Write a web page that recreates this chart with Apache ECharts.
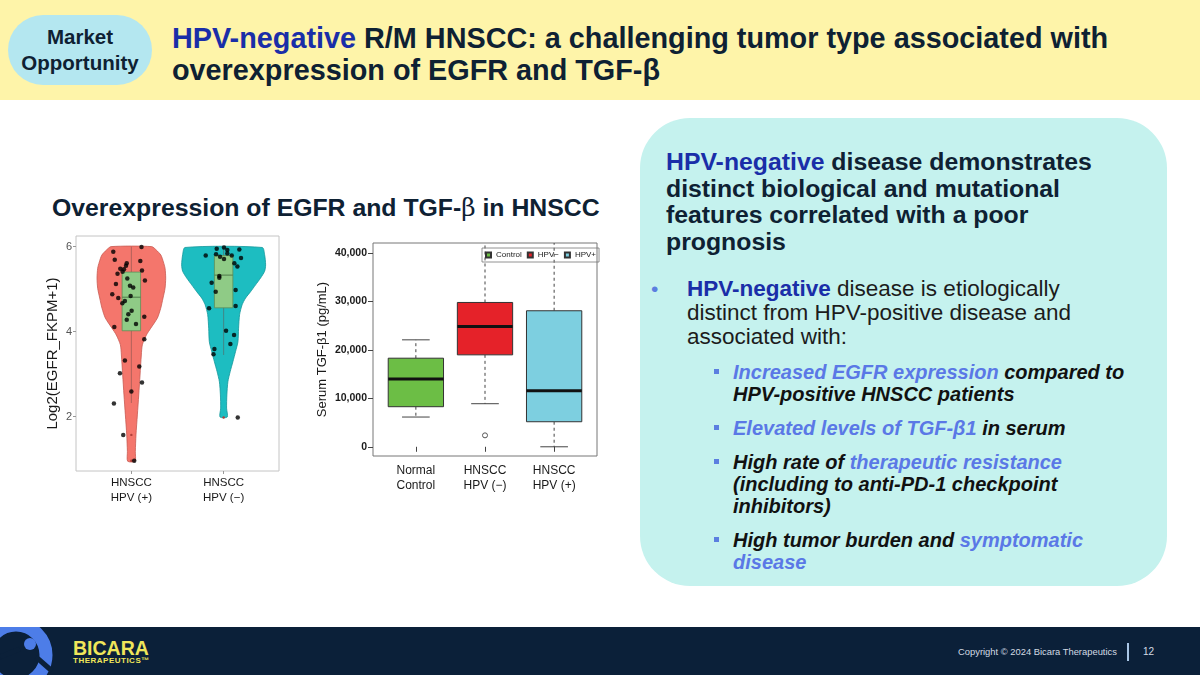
<!DOCTYPE html>
<html>
<head>
<meta charset="utf-8">
<script src="https://cdn.jsdelivr.net/npm/echarts@6/dist/echarts.min.js"></script>
<style>
  html, body { margin: 0; padding: 0; }
  body { width: 1200px; height: 675px; position: relative; overflow: hidden; background: #fff;
         font-family: 'Liberation Sans', Arial, sans-serif; color: #0e2133; }
  .abs { position: absolute; white-space: nowrap; }
  .band { left: 0; top: 0; width: 1200px; height: 100px; background: #fef4a9; }
  .pill { left: 8px; top: 15px; width: 144px; height: 70px; border-radius: 35px; background: #b4e7f0;
          display: flex; align-items: center; justify-content: center; text-align: center;
          font-weight: bold; font-size: 20.5px; line-height: 26px; }
  .headline { left: 172px; top: 22px; font-weight: bold; font-size: 28.8px; line-height: 32px; }
  .blue { color: #1a2ea8; }
  .sub { left: 52px; top: 194px; font-weight: bold; font-size: 24.8px; line-height: 28px; }
  .beta { font-family: 'DejaVu Serif', serif; font-weight: normal; }
  .panel { left: 640px; top: 118px; width: 527px; height: 468px; border-radius: 50px; background: #c5f2ee; }
  .lead { left: 666px; top: 149px; font-weight: bold; font-size: 24.8px; line-height: 26.7px; }
  .bul { left: 687px; top: 277px; font-size: 22.5px; line-height: 24px; color: #1c1c1c; }
  .dot { left: 651px; top: 277px; font-size: 21px; line-height: 24px; color: #5b7fe0; }
  .sq { width: 5px; height: 5px; background: #5b7fe0; }
  .it { left: 733px; font-size: 20px; line-height: 22px; font-weight: bold; font-style: italic; color: #111; }
  .lt { color: #5a78e6; }
  .foot { left: 0; top: 627px; width: 1200px; height: 48px; background: #0b2039; }
  .brand { left: 73px; top: 638px; font-weight: 900; font-size: 19.5px; line-height: 20px; color: #f0e65a; }
  .brand2 { left: 73px; top: 656px; font-weight: bold; font-size: 8px; line-height: 10px; color: #f0e65a; letter-spacing: 0.5px; }
  .copy { left: 958px; top: 645px; font-size: 9.4px; line-height: 14px; color: #d3dbe4; }
  .bar { left: 1127px; top: 643px; width: 2px; height: 18px; background: #a9c6e6; }
  .pg { left: 1143px; top: 645px; font-size: 10px; line-height: 14px; color: #d3dbe4; }
  #chart { position: absolute; left: 0; top: 100px; width: 640px; height: 527px; }
</style>
</head>
<body>
<div class="abs band"></div>
<div class="abs pill">Market<br>Opportunity</div>
<div class="abs headline"><span class="blue">HPV-negative</span> R/M HNSCC: a challenging tumor type associated with<br>overexpression of EGFR and TGF-β</div>
<div class="abs sub">Overexpression of EGFR and TGF-<span class="beta">β</span> in HNSCC</div>

<div class="abs panel"></div>
<div class="abs lead"><span class="blue">HPV-negative</span> disease demonstrates<br>distinct biological and mutational<br>features correlated with a poor<br>prognosis</div>
<div class="abs dot">•</div>
<div class="abs bul"><b class="blue">HPV-negative</b> disease is etiologically<br>distinct from HPV-positive disease and<br>associated with:</div>
<div class="abs sq" style="left:714px;top:369px"></div>
<div class="abs it" style="top:361px"><span class="lt">Increased EGFR expression</span> compared to<br>HPV-positive HNSCC patients</div>
<div class="abs sq" style="left:714px;top:425px"></div>
<div class="abs it" style="top:417px"><span class="lt">Elevated levels of TGF-β1</span> in serum</div>
<div class="abs sq" style="left:714px;top:459px"></div>
<div class="abs it" style="top:451px">High rate of <span class="lt">therapeutic resistance</span><br>(including to anti-PD-1 checkpoint<br>inhibitors)</div>
<div class="abs sq" style="left:714px;top:537px"></div>
<div class="abs it" style="top:529px">High tumor burden and <span class="lt">symptomatic</span><br><span class="lt">disease</span></div>

<div class="abs foot"></div>
<svg class="abs" style="left:0;top:627px" width="70" height="48">
  <circle cx="16" cy="28" r="30" fill="none" stroke="#4d7de8" stroke-width="13"/>
  <circle cx="30" cy="17" r="6" fill="#4d7de8"/>
  <path d="M0 30 L20 22 M36 30 L52 44" stroke="#0b2039" stroke-width="5"/>
</svg>
<div class="abs brand">BICARA</div>
<div class="abs brand2">THERAPEUTICS™</div>
<div class="abs copy">Copyright © 2024 Bicara Therapeutics</div>
<div class="abs bar"></div>
<div class="abs pg">12</div>

<div id="chart"></div>

<script>
// EGFR violin plot
const egfrGroups = ['HNSCC\nHPV (+)', 'HNSCC\nHPV (−)']
const egfrTicks = [2, 4, 6]
const violinPosY = [0.95, 1.18, 1.57, 2.04, 2.51, 2.98, 3.45, 3.69, 3.92, 4.08, 4.32, 4.55, 4.79, 5.02, 5.26, 5.49, 5.64, 5.8, 5.92, 6.0]
const violinPosW = [0.04, 0.043, 0.05, 0.065, 0.08, 0.094, 0.108, 0.119, 0.163, 0.21, 0.282, 0.318, 0.343, 0.365, 0.372, 0.365, 0.347, 0.32, 0.27, 0.22]
const violinNegY = [1.99, 2.2, 2.51, 2.82, 3.06, 3.29, 3.53, 3.76, 4.08, 4.4, 4.63, 4.79, 4.94, 5.1, 5.26, 5.42, 5.57, 5.81, 5.98]
const violinNegW = [0.039, 0.032, 0.035, 0.046, 0.071, 0.1, 0.129, 0.155, 0.162, 0.173, 0.2, 0.238, 0.292, 0.346, 0.4, 0.444, 0.455, 0.444, 0.418]
// low whisker, q1, median, q3, high whisker
const egfrBoxPos = [2.32, 4.02, 4.81, 5.40, 6.00]
const egfrBoxNeg = [3.45, 4.56, 5.33, 5.79, 5.98]
const egfrOutPos = [1.57, 0.96]
const egfrOutNeg = [1.98]
// jittered points: [offset from group, value]
const dotsPos = [
  [-0.196, 5.88], [0.11, 5.99], [-0.18, 5.69], [0.097, 5.66], [-0.05, 5.61], [-0.058, 5.55],
  [-0.12, 5.48], [-0.08, 5.47], [0.115, 5.44], [-0.15, 5.36], [-0.095, 5.41], [0.147, 5.2],
  [-0.167, 5.12], [-0.044, 5.25], [-0.015, 5.08], [0.02, 5.04], [-0.207, 4.88], [-0.008, 4.84],
  [-0.142, 4.79], [-0.07, 4.72], [-0.098, 4.67], [0.003, 4.49], [-0.033, 4.41], [0.14, 4.35],
  [-0.05, 4.28], [0.05, 4.18], [-0.185, 4.11], [0.14, 3.82], [-0.07, 3.32], [0.086, 3.18],
  [-0.124, 3.02], [0.115, 2.8], [0, 2.59], [-0.189, 2.31], [-0.088, 1.57], [0.031, 0.96]
]
const dotsNeg = [
  [-0.075, 5.95], [0.004, 5.98], [0.04, 5.92], [0.04, 5.84], [0.17, 5.93], [-0.194, 5.79],
  [-0.082, 5.82], [-0.039, 5.76], [0.004, 5.71], [0.088, 5.79], [0.188, 5.73], [0.116, 5.61],
  [0.149, 5.53], [-0.047, 5.31], [-0.047, 5.27], [-0.13, 5.15], [0.13, 4.98], [-0.086, 4.94],
  [0.13, 4.6], [-0.158, 4.55], [0.026, 4.02], [0.113, 3.92], [0.073, 3.71], [-0.1, 3.59],
  [-0.11, 3.47], [0.153, 1.98]
]

// TGF-beta1 box plot
const tgfGroups = ['Normal\nControl', 'HNSCC\nHPV (−)', 'HNSCC\nHPV (+)']
const tgfLegend = ['Control', 'HPV−', 'HPV+']
const tgfTicks = [0, 10000, 20000, 30000, 40000]
const tgfControl = [6140, 8270, 14000, 18280, 22070]
const tgfNeg = [8890, 18970, 24820, 29780, 44000]
const tgfPos = [0, 5170, 11580, 28070, 43500]
const tgfOutNeg = [2360]

const chart = echarts.init(document.getElementById('chart'))

function violin(pos, ys, ws, fill, stroke) {
  return {
    type: 'custom', xAxisIndex: 0, yAxisIndex: 0, silent: true, z: 2,
    data: [[pos]],
    renderItem: function (params, api) {
      const x = api.value(0)
      const left = [], right = []
      ys.forEach(function (v, i) {
        left.push(api.coord([x - ws[i], v]))
        right.unshift(api.coord([x + ws[i], v]))
      })
      return {
        type: 'polygon',
        shape: { points: left.concat(right), smooth: 0.25 },
        style: { fill: fill, stroke: stroke, lineWidth: 0.8 }
      }
    }
  }
}

function innerBox(pos, b, outl) {
  return {
    type: 'custom', xAxisIndex: 0, yAxisIndex: 0, silent: true, z: 3,
    data: [[pos].concat(b)],
    renderItem: function (params, api) {
      const x = api.value(0)
      const tl = api.coord([x - 0.1, api.value(4)])
      const br = api.coord([x + 0.1, api.value(2)])
      const md = api.coord([x, api.value(3)])
      const lo = api.coord([x, api.value(1)])
      const hi = api.coord([x, api.value(5)])
      const kids = [
        { type: 'line', shape: { x1: lo[0], y1: lo[1], x2: hi[0], y2: hi[1] }, style: { stroke: '#6a4a46', lineWidth: 0.8, opacity: 0.6 } },
        { type: 'rect', shape: { x: tl[0], y: tl[1], width: br[0] - tl[0], height: br[1] - tl[1] }, style: { fill: '#8fcb86', stroke: '#5f8f58', lineWidth: 0.8 } },
        { type: 'line', shape: { x1: tl[0], y1: md[1], x2: br[0], y2: md[1] }, style: { stroke: '#4f7a4a', lineWidth: 1 } }
      ]
      outl.forEach(function (v) {
        const p = api.coord([x, v])
        kids.push({ type: 'circle', shape: { cx: p[0], cy: p[1], r: 1.2 }, style: { fill: '#b0403a' } })
      })
      return { type: 'group', children: kids }
    }
  }
}

function jitter(pos, pts) {
  return {
    type: 'scatter', xAxisIndex: 0, yAxisIndex: 0, silent: true, z: 4,
    symbolSize: 4.5, itemStyle: { color: '#000' },
    data: pts.map(function (d) { return [pos + d[0], d[1]] })
  }
}

function tgfBox(name, pos, s, outl, fill) {
  return {
    name: name, type: 'custom', xAxisIndex: 1, yAxisIndex: 1, silent: true,
    itemStyle: { color: fill, borderColor: '#333', borderWidth: 0.6 },
    data: [[pos].concat(s)],
    renderItem: function (params, api) {
      const cs = params.coordSys
      const clip = function (y) { return Math.max(cs.y, Math.min(cs.y + cs.height, y)) }
      const x = api.value(0)
      const hw = api.size([0.8, 0])[0] / 2
      const cx = api.coord([x, 0])[0]
      const yv = function (k) { return api.coord([x, api.value(k)])[1] }
      const lo = yv(1), q1 = yv(2), md = yv(3), q3 = yv(4), hi = yv(5)
      const dash = { stroke: '#444', lineWidth: 1, lineDash: [3, 3] }
      const solid = { stroke: '#444', lineWidth: 1 }
      const kids = [
        { type: 'line', shape: { x1: cx, y1: q3, x2: cx, y2: clip(hi) }, style: dash },
        { type: 'line', shape: { x1: cx, y1: q1, x2: cx, y2: clip(lo) }, style: dash }
      ]
      if (hi >= cs.y) kids.push({ type: 'line', shape: { x1: cx - hw / 2, y1: hi, x2: cx + hw / 2, y2: hi }, style: solid })
      if (lo <= cs.y + cs.height) kids.push({ type: 'line', shape: { x1: cx - hw / 2, y1: lo, x2: cx + hw / 2, y2: lo }, style: solid })
      kids.push({ type: 'rect', shape: { x: cx - hw, y: q3, width: 2 * hw, height: q1 - q3 }, style: { fill: fill, stroke: '#333', lineWidth: 1 } })
      kids.push({ type: 'line', shape: { x1: cx - hw, y1: md, x2: cx + hw, y2: md }, style: { stroke: '#111', lineWidth: 3 } })
      outl.forEach(function (v) {
        const p = api.coord([x, v])
        kids.push({ type: 'circle', shape: { cx: p[0], cy: p[1], r: 2.5 }, style: { fill: 'none', stroke: '#555', lineWidth: 1 } })
      })
      return { type: 'group', children: kids }
    }
  }
}

function thousands(v) {
  return String(v).replace(/\B(?=(\d{3})+(?!\d))/g, ',')
}

const option = {
  animation: false,
  textStyle: { fontFamily: 'Liberation Sans, Arial, sans-serif' },
  grid: [
    { left: 76, top: 136, width: 203, height: 235, show: true, borderColor: '#c4c4c4', borderWidth: 1, backgroundColor: 'transparent' },
    { left: 373, top: 143, width: 224, height: 213, show: true, borderColor: '#777', borderWidth: 1, backgroundColor: 'transparent' }
  ],
  legend: {
    data: tgfLegend, left: 482, top: 148, icon: 'rect',
    itemWidth: 5, itemHeight: 5, itemGap: 5, padding: [3, 3],
    borderColor: '#777', borderWidth: 0.8,
    textStyle: { fontSize: 8, color: '#222' }
  },
  xAxis: [
    {
      gridIndex: 0, type: 'value', min: 0.4, max: 2.6,
      axisLine: { show: false }, splitLine: { show: false },
      axisTick: { customValues: [1, 2], length: 3, lineStyle: { color: '#999' } },
      axisLabel: {
        customValues: [1, 2], margin: 4, fontSize: 11.5, lineHeight: 15, color: '#1a1a1a',
        formatter: function (v) { return egfrGroups[v - 1] }
      }
    },
    {
      gridIndex: 1, type: 'value', min: 0.38, max: 3.62,
      axisLine: { show: false }, splitLine: { show: false },
      axisTick: { customValues: [1, 2, 3], length: 5, lineStyle: { color: '#444' } },
      axisLabel: {
        customValues: [1, 2, 3], margin: 7, fontSize: 12, lineHeight: 15, color: '#1a1a1a',
        formatter: function (v) { return tgfGroups[v - 1] }
      }
    }
  ],
  yAxis: [
    {
      gridIndex: 0, type: 'value', min: 0.72, max: 6.25,
      axisLine: { show: false }, splitLine: { show: false },
      axisTick: { show: true, customValues: egfrTicks, length: 3, lineStyle: { color: '#999' } },
      axisLabel: { customValues: egfrTicks, margin: 4, fontSize: 11, color: '#555' },
      name: 'Log2(EGFR_FKPM+1)', nameLocation: 'middle', nameGap: 16,
      nameTextStyle: { fontSize: 15, color: '#1a1a1a' }
    },
    {
      gridIndex: 1, type: 'value', min: -1900, max: 42050,
      axisLine: { show: false }, splitLine: { show: false },
      axisTick: { show: true, customValues: tgfTicks, length: 5, lineStyle: { color: '#444' } },
      axisLabel: { customValues: tgfTicks, margin: 6, fontSize: 10.5, color: '#1a1a1a', fontWeight: 'bold', formatter: thousands },
      name: 'Serum TGF-β1 (pg/mL)', nameLocation: 'middle', nameGap: 44,
      nameTextStyle: { fontSize: 13, color: '#1a1a1a' }
    }
  ],
  series: [
    violin(1, violinPosY, violinPosW, '#f4766c', '#c85a52'),
    violin(2, violinNegY, violinNegW, '#1dbdc1', '#11979a'),
    innerBox(1, egfrBoxPos, egfrOutPos),
    innerBox(2, egfrBoxNeg, egfrOutNeg),
    jitter(1, dotsPos),
    jitter(2, dotsNeg),
    tgfBox(tgfLegend[0], 1, tgfControl, [], '#6cbe45'),
    tgfBox(tgfLegend[1], 2, tgfNeg, tgfOutNeg, '#e52229'),
    tgfBox(tgfLegend[2], 3, tgfPos, [], '#7dcfe0')
  ]
}

chart.setOption(option)
</script>
</body>
</html>
